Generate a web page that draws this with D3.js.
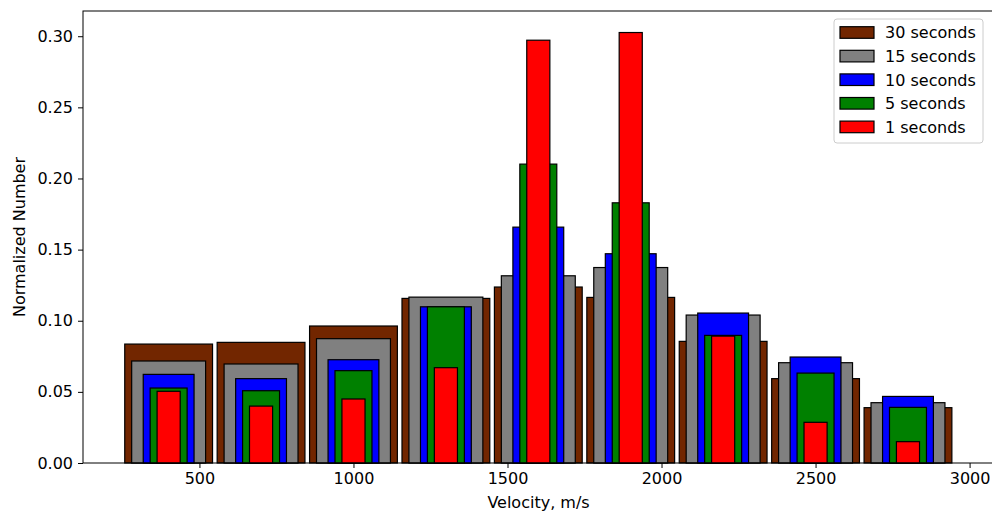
<!DOCTYPE html>
<html>
<head>
<meta charset="utf-8">
<script src="https://cdn.jsdelivr.net/npm/d3@7"></script>
<style>
  body { margin: 0; background: #fff; }
  text { font-family: "DejaVu Sans", sans-serif; }
</style>
</head>
<body>
<div id="chart"></div>
<script>
var width = 992;
var height = 512;

// bin centres (m/s) and bar width as a fraction of bin spacing
var centers = [400, 700, 1000, 1300, 1600, 1900, 2200, 2500, 2800];
var seriesNames = ["30 seconds", "15 seconds", "10 seconds", "5 seconds", "1 seconds"];
var seriesColors = ["#722600", "#808080", "#0000ff", "#008000", "#ff0000"];
var widthFrac = [0.95, 0.8, 0.55, 0.4, 0.25];

var s30 = [0.0836, 0.0848, 0.0963, 0.1157, 0.1237, 0.1164, 0.0855, 0.0593, 0.0389];
var s15 = [0.0717, 0.0696, 0.0874, 0.1166, 0.1316, 0.1374, 0.1040, 0.0705, 0.0424];
var s10 = [0.0623, 0.0593, 0.0726, 0.1098, 0.1658, 0.1471, 0.1054, 0.0745, 0.0468];
var s5  = [0.0527, 0.0508, 0.0649, 0.1098, 0.2101, 0.1829, 0.0897, 0.0632, 0.0391];
var s1  = [0.0504, 0.0400, 0.0450, 0.0670, 0.2972, 0.3026, 0.0892, 0.0286, 0.0150];
var seriesValues = [s30, s15, s10, s5, s1];

var xTicks = [500, 1000, 1500, 2000, 2500, 3000];
var yTicks = [0, 0.05, 0.10, 0.15, 0.20, 0.25, 0.30];

var plotLeft = 83, plotRight = 993, plotTop = 11, plotBottom = 463;
var step = 300;
var fontSize = 16;

var x = d3.scaleLinear().domain([122, 3076]).range([plotLeft, plotRight]);
var yMax = d3.max(seriesValues, function(s) { return d3.max(s); }) * 1.05;
var y = d3.scaleLinear().domain([0, yMax]).range([plotBottom, plotTop]);

var svg = d3.select("#chart").append("svg").attr("width", width).attr("height", height);

// bars, widest series first
seriesValues.forEach(function(vals, si) {
    var w = step * widthFrac[si];
    svg.append("g").selectAll("rect").data(vals).enter().append("rect")
        .attr("x", function(d, i) { return x(centers[i] - w / 2); })
        .attr("width", function(d, i) { return x(centers[i] + w / 2) - x(centers[i] - w / 2); })
        .attr("y", function(d) { return y(d); })
        .attr("height", function(d) { return plotBottom - y(d); })
        .attr("fill", seriesColors[si])
        .attr("stroke", "#000").attr("stroke-width", 1.2);
});

// frame
svg.append("rect").attr("x", plotLeft).attr("y", plotTop)
    .attr("width", plotRight - plotLeft).attr("height", plotBottom - plotTop)
    .attr("fill", "none").attr("stroke", "#000").attr("stroke-width", 1);

var xAxis = svg.append("g").attr("transform", "translate(0," + plotBottom + ")")
    .call(d3.axisBottom(x).tickValues(xTicks).tickSize(5).tickPadding(5).tickFormat(d3.format("d")));
var yAxis = svg.append("g").attr("transform", "translate(" + plotLeft + ",0)")
    .call(d3.axisLeft(y).tickValues(yTicks).tickSize(5).tickPadding(5).tickFormat(d3.format(".2f")));
[xAxis, yAxis].forEach(function(a) {
    a.select(".domain").remove();
    a.selectAll("text").attr("font-size", fontSize).attr("fill", "#000").attr("font-family", "DejaVu Sans");
    a.selectAll("line").attr("stroke", "#000");
});

svg.append("text").attr("x", x(1500) + 31).attr("y", 508).attr("text-anchor", "middle")
    .attr("font-size", fontSize).text("Velocity, m/s");
svg.append("text").attr("transform", "translate(25," + ((plotTop + plotBottom) / 2) + ") rotate(-90)")
    .attr("text-anchor", "middle").attr("font-size", fontSize).text("Normalized Number");

// legend
var lg = svg.append("g").attr("transform", "translate(834,19)");
lg.append("rect").attr("width", 149).attr("height", 124).attr("rx", 3)
    .attr("fill", "#fff").attr("fill-opacity", 0.8).attr("stroke", "#ccc");
seriesNames.forEach(function(name, i) {
    var row = lg.append("g").attr("transform", "translate(0," + (13.5 + i * 23.6) + ")");
    row.append("rect").attr("x", 6).attr("y", -5.8).attr("width", 34).attr("height", 11.6)
        .attr("fill", seriesColors[i]).attr("stroke", "#000").attr("stroke-width", 1.2);
    row.append("text").attr("x", 51).attr("y", 5.8).attr("font-size", fontSize).text(name);
});
</script>
</body>
</html>
